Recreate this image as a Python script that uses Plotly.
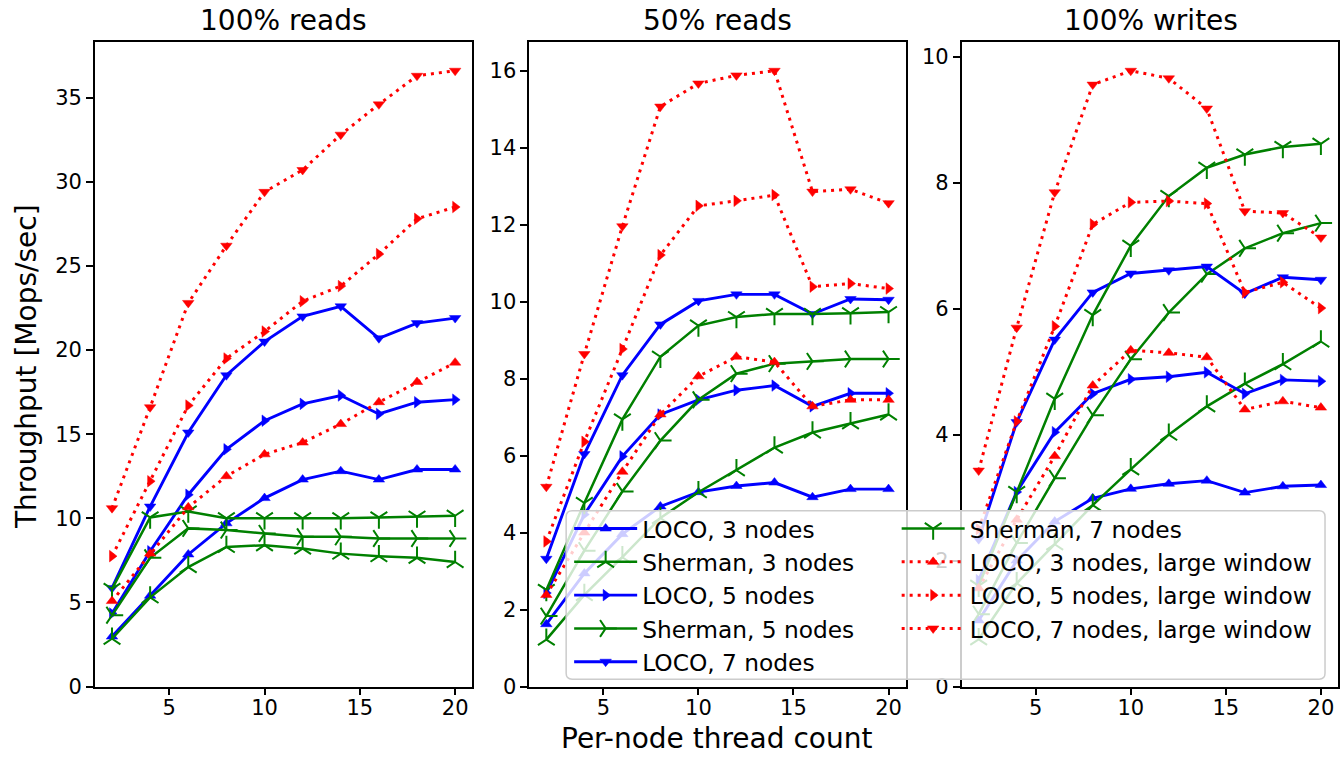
import plotly.graph_objects as go

W, H = 1340, 764

threads = [2, 4, 6, 8, 10, 12, 14, 16, 18, 20]
panel_titles = ["100% reads", "50% reads", "100% writes"]
series_names = [
    "LOCO, 3 nodes", "Sherman, 3 nodes", "LOCO, 5 nodes", "Sherman, 5 nodes",
    "LOCO, 7 nodes", "Sherman, 7 nodes", "LOCO, 3 nodes, large window",
    "LOCO, 5 nodes, large window", "LOCO, 7 nodes, large window",
]

# ---- 100% reads ----
reads100_loco3 = [2.97, 5.4, 7.85, 9.7, 11.2, 12.3, 12.8, 12.3, 12.9, 12.9]
reads100_sherman3 = [2.84, 5.3, 7.1, 8.3, 8.4, 8.2, 7.9, 7.75, 7.65, 7.4]
reads100_loco5 = [4.34, 8.04, 11.4, 14.1, 15.8, 16.8, 17.3, 16.2, 16.9, 17.05]
reads100_sherman5 = [4.24, 7.65, 9.4, 9.3, 9.1, 8.9, 8.9, 8.8, 8.8, 8.8]
reads100_loco7 = [5.86, 10.7, 15.1, 18.5, 20.5, 22.0, 22.6, 20.7, 21.6, 21.9]
reads100_sherman7 = [5.8, 10.05, 10.4, 10.0, 10.0, 10.0, 10.0, 10.05, 10.1, 10.15]
reads100_loco3_lw = [5.08, 7.9, 10.65, 12.5, 13.8, 14.5, 15.6, 16.9, 18.1, 19.25]
reads100_loco5_lw = [7.75, 12.2, 16.7, 19.5, 21.1, 22.9, 23.8, 25.7, 27.8, 28.5]
reads100_loco7_lw = [10.6, 16.6, 22.8, 26.2, 29.4, 30.7, 32.8, 34.6, 36.3, 36.6]

# ---- 50% reads ----
reads50_loco3 = [1.62, 2.94, 3.96, 4.68, 5.05, 5.21, 5.30, 4.92, 5.13, 5.13]
reads50_sherman3 = [1.22, 2.38, 3.36, 4.38, 5.05, 5.62, 6.21, 6.6, 6.84, 7.07]
reads50_loco5 = [2.43, 4.47, 5.98, 7.07, 7.45, 7.70, 7.82, 7.28, 7.62, 7.62]
reads50_sherman5 = [1.83, 3.53, 5.07, 6.39, 7.45, 8.13, 8.39, 8.45, 8.51, 8.51]
reads50_loco7 = [3.32, 6.04, 8.09, 9.41, 10.02, 10.19, 10.19, 9.68, 10.07, 10.05]
reads50_sherman7 = [2.51, 4.77, 6.94, 8.57, 9.38, 9.60, 9.68, 9.68, 9.70, 9.73]
reads50_loco3_lw = [2.38, 4.0, 5.58, 7.07, 8.06, 8.57, 8.43, 7.28, 7.45, 7.45]
reads50_loco5_lw = [3.77, 6.36, 8.77, 11.21, 12.49, 12.62, 12.77, 10.39, 10.47, 10.34]
reads50_loco7_lw = [5.19, 8.64, 11.96, 15.07, 15.67, 15.88, 16.0, 12.86, 12.92, 12.56]

# ---- 100% writes ----
writes100_loco3 = [1.05, 2.0, 2.62, 2.99, 3.14, 3.22, 3.27, 3.08, 3.18, 3.2]
writes100_sherman3 = [0.75, 1.64, 2.26, 2.88, 3.45, 4.0, 4.45, 4.81, 5.12, 5.48]
writes100_loco5 = [1.69, 3.09, 4.04, 4.65, 4.88, 4.92, 4.99, 4.65, 4.87, 4.85]
writes100_sherman5 = [1.15, 2.28, 3.31, 4.31, 5.2, 5.94, 6.55, 6.96, 7.2, 7.36]
writes100_loco7 = [2.34, 4.2, 5.51, 6.26, 6.56, 6.61, 6.67, 6.24, 6.50, 6.46]
writes100_sherman7 = [1.6, 3.09, 4.57, 5.9, 7.0, 7.79, 8.24, 8.45, 8.57, 8.62]
writes100_loco3_lw = [1.56, 2.65, 3.66, 4.78, 5.34, 5.30, 5.23, 4.40, 4.53, 4.43]
writes100_loco5_lw = [2.5, 4.21, 5.72, 7.34, 7.69, 7.71, 7.67, 6.26, 6.42, 6.01]
writes100_loco7_lw = [3.43, 5.70, 7.85, 9.56, 9.78, 9.66, 9.18, 7.55, 7.52, 7.13]

panels = [
    [reads100_loco3, reads100_sherman3, reads100_loco5, reads100_sherman5, reads100_loco7,
     reads100_sherman7, reads100_loco3_lw, reads100_loco5_lw, reads100_loco7_lw],
    [reads50_loco3, reads50_sherman3, reads50_loco5, reads50_sherman5, reads50_loco7,
     reads50_sherman7, reads50_loco3_lw, reads50_loco5_lw, reads50_loco7_lw],
    [writes100_loco3, writes100_sherman3, writes100_loco5, writes100_sherman5, writes100_loco7,
     writes100_sherman7, writes100_loco3_lw, writes100_loco5_lw, writes100_loco7_lw],
]

BLUE, GREEN, RED = "#0000ff", "#008000", "#ff0000"
styles = [
    dict(color=BLUE, dash="solid", symbol="triangle-up", tri=False),
    dict(color=GREEN, dash="solid", symbol="y-up", tri=True),
    dict(color=BLUE, dash="solid", symbol="triangle-right", tri=False),
    dict(color=GREEN, dash="solid", symbol="y-right", tri=True),
    dict(color=BLUE, dash="solid", symbol="triangle-down", tri=False),
    dict(color=GREEN, dash="solid", symbol="y-down", tri=True),
    dict(color=RED, dash="3px,5px", symbol="triangle-up", tri=False),
    dict(color=RED, dash="3px,5px", symbol="triangle-right", tri=False),
    dict(color=RED, dash="3px,5px", symbol="triangle-down", tri=False),
]


def px_x(p):
    return p / W


def px_y(p):
    return 1 - p / H


x_domains = [(95, 473), (530, 907), (963, 1340)]
y_top, y_bot = 43, 697.5

fig = go.Figure()

for pi, series in enumerate(panels):
    ax = "" if pi == 0 else str(pi + 1)
    for si, (name, vals) in enumerate(zip(series_names, series)):
        st = styles[si]
        if st["tri"]:
            marker = dict(symbol=st["symbol"], size=14, color=st["color"],
                          line=dict(width=2, color=st["color"]))
            lw = 2.5
        else:
            marker = dict(symbol=st["symbol"], size=10, color=st["color"],
                          line=dict(width=0.5, color=st["color"]))
            lw = 2.9 if st["color"] == BLUE else 3.0
        fig.add_trace(go.Scatter(
            x=threads, y=vals, name=name, mode="lines+markers",
            line=dict(color=st["color"], width=lw, dash=st["dash"]),
            marker=marker,
            xaxis="x" + ax, yaxis="y" + ax,
            showlegend=(pi == 0),
            legend="legend" if si < 5 else "legend2",
            legendgroup=name,
        ))

axis_common = dict(
    showline=True, mirror=True, linecolor="#000000", linewidth=1.5,
    ticks="outside", ticklen=7, tickwidth=1.5, tickcolor="#000000",
    showgrid=False, zeroline=False,
    tickfont=dict(family="DejaVu Sans", size=21, color="#000000"),
)

layout = dict(
    width=W, height=H, margin=dict(l=0, r=0, t=0, b=0),
    paper_bgcolor="white", plot_bgcolor="white",
    font=dict(family="DejaVu Sans", color="#000000"),
)

for pi, series in enumerate(panels):
    ax = "" if pi == 0 else str(pi + 1)
    allv = [v for s in series for v in s]
    vmax, vmin = max(allv), min(allv)
    ytop = vmax + 0.05 * (vmax - vmin)
    d0, d1 = x_domains[pi]
    layout["xaxis" + ax] = dict(
        domain=[px_x(d0), px_x(d1)], range=[1.1, 20.9], tickvals=[5, 10, 15, 20],
        anchor="y" + ax, ticklabelstandoff=-5, **axis_common)
    dt = [5, 2, 2][pi]
    layout["yaxis" + ax] = dict(
        domain=[px_y(y_bot), px_y(y_top)], range=[0, ytop], dtick=dt, tick0=0,
        anchor="x" + ax, **axis_common)

fig.update_layout(**layout)

# subplot titles
for pi, t in enumerate(panel_titles):
    d0, d1 = x_domains[pi]
    cx = (d0 + d1) / 2 if pi < 2 else (963 + 1342) / 2
    fig.add_annotation(text=t, x=px_x(cx), y=px_y(21), xref="paper", yref="paper",
                       showarrow=False, xanchor="center", yanchor="middle",
                       font=dict(family="DejaVu Sans", size=28, color="#000000"))

# axis labels
fig.add_annotation(text="Per-node thread count", x=px_x(718), y=px_y(750),
                   xref="paper", yref="paper", showarrow=False,
                   xanchor="center", yanchor="middle",
                   font=dict(family="DejaVu Sans", size=28, color="#000000"))
fig.add_annotation(text="Throughput [Mops/sec]", x=px_x(26), y=px_y(372),
                   xref="paper", yref="paper", showarrow=False, textangle=-90,
                   xanchor="center", yanchor="middle",
                   font=dict(family="DejaVu Sans", size=28, color="#000000"))

# legend box (semi-transparent, rounded)
L, R, T, B, r = 567, 1327, 519, 690, 6
path = (f"M {px_x(L + r)},{px_y(T)} L {px_x(R - r)},{px_y(T)} "
        f"Q {px_x(R)},{px_y(T)} {px_x(R)},{px_y(T + r)} "
        f"L {px_x(R)},{px_y(B - r)} Q {px_x(R)},{px_y(B)} {px_x(R - r)},{px_y(B)} "
        f"L {px_x(L + r)},{px_y(B)} Q {px_x(L)},{px_y(B)} {px_x(L)},{px_y(B - r)} "
        f"L {px_x(L)},{px_y(T + r)} Q {px_x(L)},{px_y(T)} {px_x(L + r)},{px_y(T)} Z")
fig.add_shape(type="path", path=path, xref="paper", yref="paper", layer="above",
              fillcolor="rgba(255,255,255,0.8)", line=dict(color="#cccccc", width=1.5))

legend_common = dict(
    bgcolor="rgba(0,0,0,0)", borderwidth=0,
    font=dict(family="DejaVu Sans", size=23.3, color="#000000"),
    itemwidth=63, tracegroupgap=0, xanchor="left", yanchor="top",
    xref="paper", yref="paper",
)
fig.update_layout(
    legend=dict(x=px_x(570), y=px_y(515), **legend_common),
    legend2=dict(x=px_x(898), y=px_y(515), **legend_common),
)

fig.write_html(
    "out.html",
    config={"displayModeBar": False},
    post_script="document.body.style.margin='0';document.body.style.padding='0';"
                "document.body.style.overflow='hidden';",
)
